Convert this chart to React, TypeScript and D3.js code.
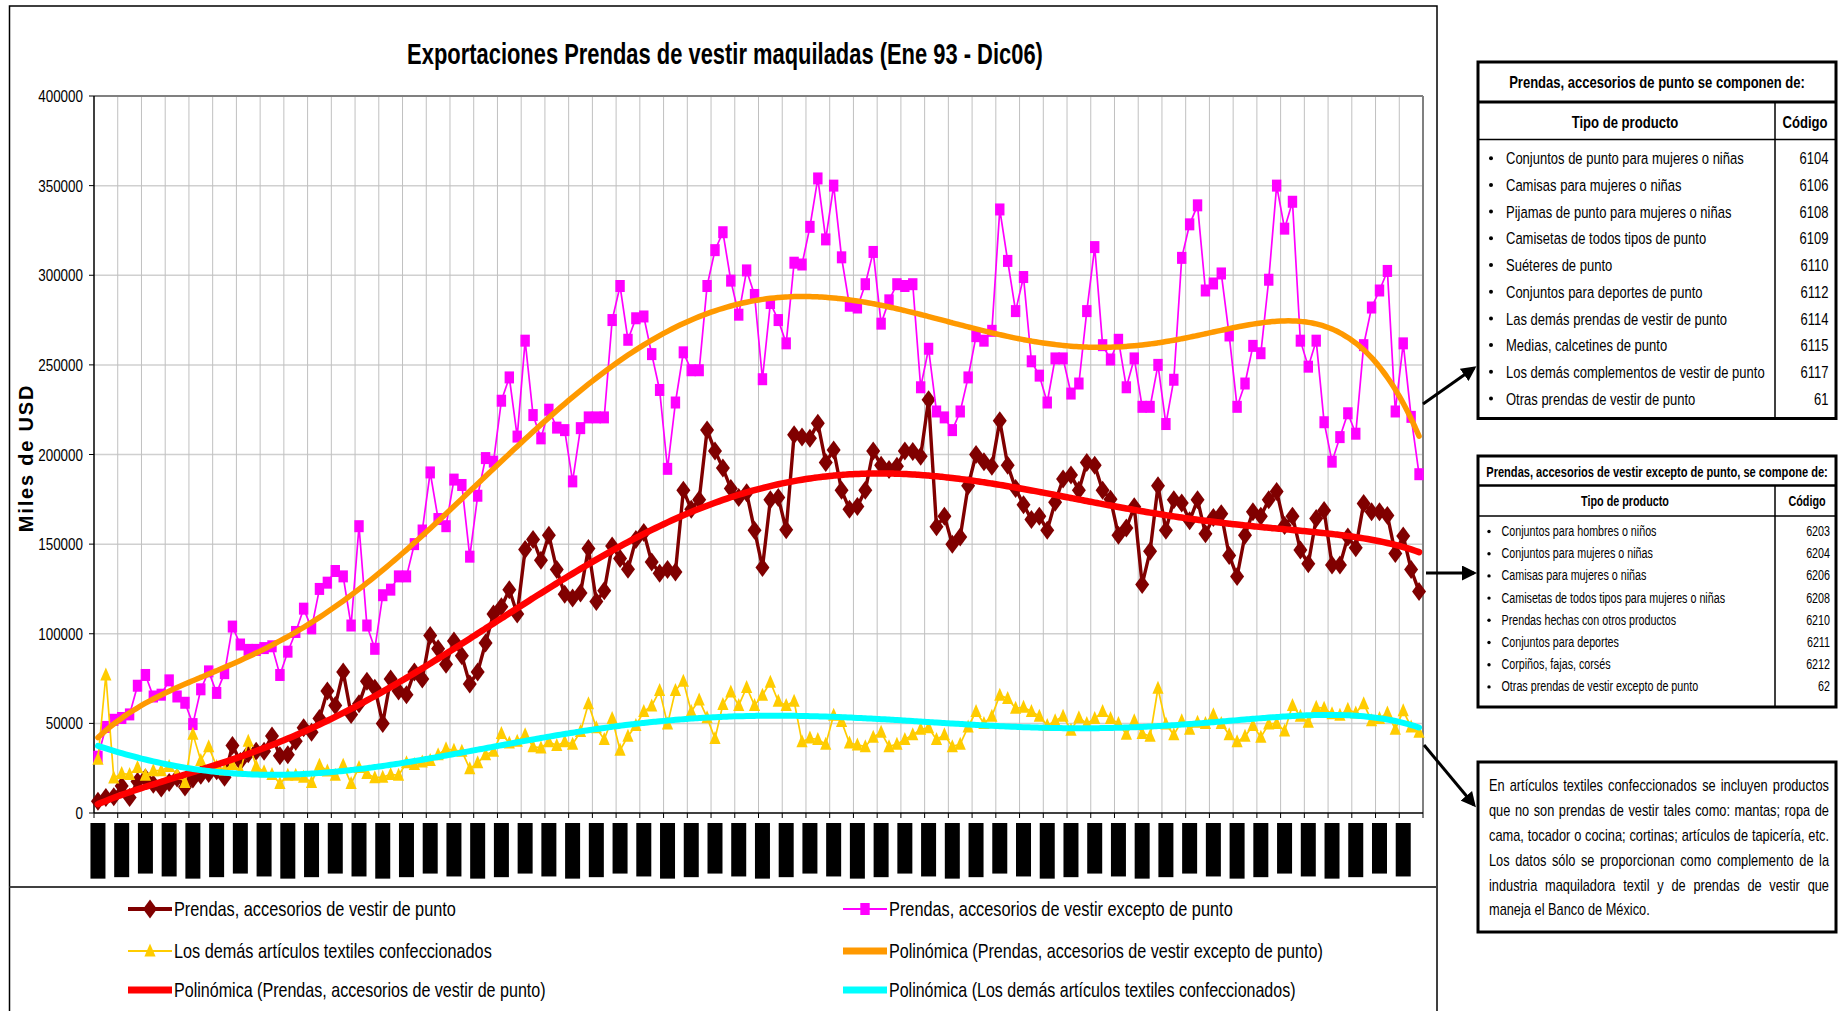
import React from "react";
import * as d3 from "d3";

// ---------------- DATA ----------------
const monthsShort = ["Ene", "Abr", "Jul", "Oct"];
const yearsShort = ["93", "94", "95", "96", "97", "98", "99", "00", "01", "02", "03", "04", "05", "06"];
const yTicks = [0, 50000, 100000, 150000, 200000, 250000, 300000, 350000, 400000];

// Prendas, accesorios de vestir de punto (Ene93..Dic06, monthly)
const punto = [
  6500, 8600, 9000, 15000, 8600, 17600, 19500, 16000, 14000, 17000, 19500, 14500,
  19000, 21000, 22000, 23600, 20000, 37600, 28800, 33000, 34500, 34500, 43000, 32000,
  32500, 40000, 47500, 45000, 52700, 68000, 60000, 78700, 55000, 61000, 73500, 69600,
  50000, 74800, 68000, 66000, 78700, 74800, 99000, 91600, 83000, 96000, 87700, 72000,
  78700, 94800, 111000, 115000, 124600, 111000, 147000, 152600, 141000, 155000, 135800, 122000,
  120000, 122800, 147500, 118000, 124000, 149000, 142000, 136000, 152600, 156500, 140000, 133700,
  135800, 134500, 180000, 169500, 174700, 213600, 202000, 192400, 181000, 176000, 178600, 157800,
  137000, 174700, 176000, 158000, 211000, 209700, 209000, 217500, 195500, 202500, 180000, 169500,
  171000, 180000, 202000, 194000, 191600, 193400, 202000, 201700, 199000, 230500, 159700, 165600,
  150000, 154000, 182500, 200000, 196000, 193400, 218800, 194000, 181000, 172000, 163800, 165600,
  157800, 173400, 186400, 188500, 180000, 195500, 194000, 180000, 175000, 155000, 159000, 170800,
  127500, 146000, 182500, 157800, 174700, 173000, 163000, 174700, 155800, 164800, 167000, 143600,
  132000, 155000, 168000, 165600, 174700, 179400, 160400, 165600, 146700, 139000, 164300, 168700,
  138400, 138400, 154000, 148000, 172600, 168000, 168000, 166000, 144800, 154500, 135800, 123600,
];

// Prendas, accesorios de vestir excepto de punto
const excepto = [
  31400, 48000, 52000, 53000, 55000, 71000, 77000, 65000, 66000, 74000, 65000, 61500,
  49600, 69000, 79000, 67000, 78000, 104000, 94000, 91000, 91000, 92000, 93000, 77000,
  90000, 101000, 114000, 103000, 125000, 128500, 135000, 132000, 104600, 160000, 104600, 91600,
  121500, 124600, 132000, 132000, 150000, 157600, 190000, 164000, 160000, 186000, 183000, 143000,
  177000, 198000, 196000, 230000, 243000, 210000, 263500, 222000, 209000, 225000, 215000, 213600,
  185000, 214700, 220700, 220700, 220700, 275000, 294000, 264000, 276000, 277000, 256000, 236000,
  192000, 229000, 257000, 247000, 247000, 294000, 314000, 324000, 297000, 278000, 302700, 289000,
  242000, 284500, 275000, 262000, 307000, 306000, 327000, 354000, 320000, 350000, 310000, 283000,
  282000, 295000, 313000, 273000, 286000, 295000, 294000, 295000, 237500, 259000, 224000, 220700,
  213600, 224000, 243000, 266000, 263500, 269000, 336700, 308000, 280000, 299000, 252000, 244000,
  229000, 253600, 253600, 234000, 239600, 280000, 315700, 261000, 253000, 264000, 237500, 253600,
  226600, 226600, 250000, 217000, 241700, 309700, 328400, 339000, 291500, 295400, 301000, 266400,
  226600, 239600, 260600, 256500, 297500, 350000, 326000, 341000, 263500, 249000, 263500, 218000,
  196000, 209700, 223000, 211600, 261000, 282000, 291500, 302400, 224000, 262000, 221000, 189000,
];

// Los demás artículos textiles confeccionados
const demas = [
  30000, 77000, 19500, 22000, 21500, 25400, 21000, 23600, 23600, 26000, 21500, 17000,
  44000, 29300, 37000, 26000, 24000, 27000, 23600, 40000, 26000, 23000, 21500, 16400,
  21000, 21000, 20000, 17000, 26700, 23400, 21000, 26700, 16400, 25400, 22000, 19700,
  20000, 21500, 21000, 28000, 27000, 28500, 29300, 32500, 35800, 35000, 34500, 24700,
  28000, 32500, 34500, 44400, 39000, 40000, 43600, 37000, 36300, 39700, 37600, 39700,
  38400, 45400, 61000, 47500, 41000, 52700, 35000, 42800, 48800, 56600, 59700, 68300,
  49600, 68300, 73500, 56600, 63000, 53200, 41500, 60500, 67500, 60000, 70000, 60000,
  65700, 73000, 62300, 60000, 62300, 39700, 41800, 41000, 38400, 54500, 51000, 39000,
  38000, 37000, 42300, 45000, 37000, 38400, 41000, 43600, 46700, 47500, 41000, 43600,
  37000, 38400, 48000, 56600, 50000, 54000, 65700, 63900, 58400, 59000, 56600, 54000,
  48800, 51400, 54000, 46200, 53200, 50000, 52700, 56600, 52700, 50000, 44000, 51400,
  44400, 42800, 69600, 49600, 43600, 51400, 46700, 50600, 50000, 54800, 50000, 43600,
  39700, 42800, 48800, 42300, 49600, 50000, 45700, 60000, 54000, 50600, 59000, 58400,
  55300, 54500, 57900, 55800, 61000, 51400, 52700, 55800, 46700, 57000, 48000, 45000,
];

const seriesNames = [
  "Prendas, accesorios de vestir de punto",
  "Prendas, accesorios de vestir excepto de punto",
  "Los demás artículos textiles confeccionados",
  "Polinómica (Prendas, accesorios de vestir excepto de punto)",
  "Polinómica (Prendas, accesorios de vestir de punto)",
  "Polinómica (Los demás artículos textiles confeccionados)",
];

const box1Title = "Prendas, accesorios de punto se componen de:";
const box1Items = [
  "Conjuntos de punto para mujeres o niñas",
  "Camisas para mujeres o niñas",
  "Pijamas de punto para mujeres o niñas",
  "Camisetas de todos tipos de punto",
  "Suéteres de punto",
  "Conjuntos para deportes de punto",
  "Las demás prendas de vestir de punto",
  "Medias, calcetines de punto",
  "Los demás complementos de vestir de punto",
  "Otras prendas de vestir de punto",
];
const box1Codes = ["6104", "6106", "6108", "6109", "6110", "6112", "6114", "6115", "6117", "61"];

const box2Title = "Prendas, accesorios de vestir excepto de punto, se compone de:";
const box2Items = [
  "Conjuntos para hombres o niños",
  "Conjuntos para mujeres o niñas",
  "Camisas para mujeres o niñas",
  "Camisetas de todos tipos para mujeres o niñas",
  "Prendas hechas con otros productos",
  "Conjuntos para deportes",
  "Corpiños, fajas, corsés",
  "Otras prendas de vestir excepto de punto",
];
const box2Codes = ["6203", "6204", "6206", "6208", "6210", "6211", "6212", "62"];

const box3Lines = [
  "En artículos textiles confeccionados se incluyen productos",
  "que no son prendas de vestir tales como: mantas; ropa de",
  "cama, tocador o cocina; cortinas; artículos de tapicería, etc.",
  "Los datos sólo se proporcionan como complemento de la",
  "industria maquiladora textil y de prendas de vestir que",
  "maneja el Banco de México.",
];

// ---------------- HELPERS ----------------
const FONT = '"Liberation Sans", Arial, Helvetica, sans-serif';

let _ctx: CanvasRenderingContext2D | null = null;
function measure(text: string, size: number, weight = "normal") {
  if (!_ctx) {
    const c = document.createElement("canvas");
    _ctx = c.getContext("2d");
  }
  if (!_ctx) return text.length * size * 0.5;
  _ctx.font = `${weight} ${size}px "Liberation Sans", Arial, sans-serif`;
  return _ctx.measureText(text).width;
}

function polyFit(vals: number[], order: number) {
  const n = vals.length;
  const c = (n - 1) / 2;
  const m = order + 1;
  const A = Array.from({ length: m }, () => new Array(m + 1).fill(0));
  vals.forEach((v, i) => {
    const t = (i - c) / c;
    const p: number[] = [];
    for (let j = 0; j < m; j++) p.push(Math.pow(t, j));
    for (let r = 0; r < m; r++) {
      for (let q = 0; q < m; q++) A[r][q] += p[r] * p[q];
      A[r][m] += p[r] * v;
    }
  });
  for (let col = 0; col < m; col++) {
    let piv = col;
    for (let r = col + 1; r < m; r++) if (Math.abs(A[r][col]) > Math.abs(A[piv][col])) piv = r;
    const tmp = A[col]; A[col] = A[piv]; A[piv] = tmp;
    for (let r = 0; r < m; r++) {
      if (r === col) continue;
      const f = A[r][col] / A[col][col];
      for (let q = col; q <= m; q++) A[r][q] -= f * A[col][q];
    }
  }
  const coef = A.map((row, r) => row[m] / row[r]);
  return (s: number) => {
    const t = (s - c) / c;
    let y = 0;
    for (let j = m - 1; j >= 0; j--) y = y * t + coef[j];
    return y;
  };
}

function T(props: any) {
  const { x, y, k = 1, size, weight = "normal", anchor = "start", fill = "#000", ls, children } = props;
  return (
    <text
      transform={`translate(${x},${y}) scale(${k},1)`}
      fontSize={size}
      fontWeight={weight}
      textAnchor={anchor}
      dominantBaseline="central"
      fill={fill}
      fontFamily={FONT}
      letterSpacing={ls}
    >
      {children}
    </text>
  );
}

// fit text to a given width
function TW(props: any) {
  const { text, width, size, weight = "normal" } = props;
  const k = width / measure(text, size, weight);
  return <T {...props} k={k}>{text}</T>;
}

// ---------------- LAYOUT ----------------
const W = 1838;
const H = 1011;
const PL = 94, PR = 1423, PT = 96, PB = 813;

export default function App() {
  const n = punto.length;
  const idx = d3.range(n);
  const xBand = d3.scaleBand<number>().domain(idx).range([PL, PR]).padding(0);
  const bw = xBand.bandwidth();
  const cx = (i: number) => (xBand(i) as number) + bw / 2;
  const y = d3.scaleLinear().domain([0, 400000]).range([PB, PT]);

  const xLabels: string[] = [];
  yearsShort.forEach((yr) => monthsShort.forEach((mo) => xLabels.push(`${mo}-${yr}`)));

  const line = d3.line<number>().x((_, i) => cx(i)).y((v) => y(v));

  const trendPath = (vals: number[]) => {
    const f = polyFit(vals, 6);
    const pts = d3.range(0, n - 1 + 0.001, 0.5).map((s) => [PL + bw / 2 + s * bw, y(f(s))] as [number, number]);
    return d3.line().curve(d3.curveBasis)(pts) as string;
  };

  const diamond = "M0,-9.5 L7,0 L0,9.5 L-7,0 Z";
  const tri = "M0,-7.5 L5.6,5.5 L-5.6,5.5 Z";
  const sqW = 9.4, sqH = 12;

  const C = {
    punto: "#800000",
    excepto: "#FF00FF",
    demas: "#FFCC00",
    tExcepto: "#FF9900",
    tPunto: "#FF0000",
    tDemas: "#00FFFF",
  };

  const vGrid = d3.range(3, n, 3).map((i) => xBand(i) as number);
  const xTicks = d3.range(0, n + 1, 3).map((i) => (i === n ? PR : (xBand(i) as number)));

  const b3Left = 1489, b3Right = 1829, b3Size = 16, b3k = 0.8;
  const b3Y = [785, 810.5, 835.5, 860, 885, 909.5];

  const legendRows = [909, 951, 990];
  const legCols = [[128, 174], [843, 889]];
  const legLen = [282, 344, 318, 434, 372, 407];

  return (
    <svg width={W} height={H} style={{ position: "absolute", left: 0, top: 0, background: "#fff" }} fontFamily={FONT}>
      <defs>
        <marker id="ah" viewBox="0 0 10 10" refX="8" refY="5" markerWidth="5" markerHeight="5" orient="auto" markerUnits="strokeWidth">
          <path d="M0,0 L10,5 L0,10 Z" fill="#000" />
        </marker>
      </defs>
      <rect x={0} y={0} width={W} height={H} fill="#fff" />
      <rect x={9.5} y={6} width={1427.5} height={1030} fill="#fff" stroke="#000" strokeWidth={1.5} />

      {/* title */}
      <TW x={725} y={54} width={636} size={30} weight="bold" anchor="middle" text="Exportaciones Prendas de vestir maquiladas (Ene 93 - Dic06)" />

      {/* gridlines */}
      {yTicks.slice(1, -1).map((t) => (
        <line key={"hg" + t} x1={PL} x2={PR} y1={y(t)} y2={y(t)} stroke="#d0d0d0" strokeWidth={1.5} />
      ))}
      {vGrid.map((gx, i) => (
        <line key={"vg" + i} x1={gx} x2={gx} y1={PT} y2={PB} stroke="#c0c0c0" strokeWidth={1} />
      ))}
      <line x1={PL} x2={PR} y1={PT} y2={PT} stroke="#808080" strokeWidth={2} />
      <line x1={PR} x2={PR} y1={PT} y2={PB} stroke="#808080" strokeWidth={2} />

      {/* y axis */}
      <line x1={PL} x2={PL} y1={PT} y2={PB} stroke="#000" strokeWidth={1.5} />
      {yTicks.map((t) => (
        <g key={"yt" + t}>
          <line x1={PL - 5} x2={PL} y1={y(t)} y2={y(t)} stroke="#000" strokeWidth={1} />
          <T x={83} y={y(t)} k={0.79} size={17} anchor="end">{String(t)}</T>
        </g>
      ))}
      <text
        transform={`translate(33,458) rotate(-90)`}
        fontSize={20}
        fontWeight="bold"
        textAnchor="middle"
        fontFamily={FONT}
        letterSpacing={1.8}
        fill="#000"
      >
        Miles de USD
      </text>

      {/* x axis */}
      <line x1={PL} x2={PR} y1={PB} y2={PB} stroke="#000" strokeWidth={1.5} />
      {xTicks.map((tx, i) => (
        <line key={"xt" + i} x1={tx} x2={tx} y1={PB} y2={PB + 5} stroke="#000" strokeWidth={1} />
      ))}
      {xLabels.map((lab, j) => {
        const len = measure(lab, 13, "bold") + 13;
        return (
          <g key={"xl" + j} transform={`translate(${cx(j * 3)},823) rotate(-90)`}>
            <rect x={-len} y={-7.5} width={len} height={15} fill="#000" />
            <text x={-6} y={0} textAnchor="end" dominantBaseline="central" fontSize={13} fontWeight="bold" fill="#000" fontFamily={FONT}>
              {lab}
            </text>
          </g>
        );
      })}

      {/* series: de punto */}
      <path d={line(punto) as string} fill="none" stroke={C.punto} strokeWidth={3.4} />
      {punto.map((v, i) => (
        <path key={"pm" + i} d={diamond} transform={`translate(${cx(i)},${y(v)})`} fill={C.punto} />
      ))}
      {/* series: excepto */}
      <path d={line(excepto) as string} fill="none" stroke={C.excepto} strokeWidth={1.7} />
      {excepto.map((v, i) => (
        <rect key={"em" + i} x={cx(i) - sqW / 2} y={y(v) - sqH / 2} width={sqW} height={sqH} fill={C.excepto} />
      ))}
      {/* series: demas */}
      <path d={line(demas) as string} fill="none" stroke={C.demas} strokeWidth={1.7} />
      {demas.map((v, i) => (
        <path key={"dm" + i} d={tri} transform={`translate(${cx(i)},${y(v)})`} fill={C.demas} />
      ))}

      {/* trendlines */}
      <path d={trendPath(excepto)} fill="none" stroke={C.tExcepto} strokeWidth={5.5} strokeLinecap="round" />
      <path d={trendPath(punto)} fill="none" stroke={C.tPunto} strokeWidth={6.5} strokeLinecap="round" />
      <path d={trendPath(demas)} fill="none" stroke={C.tDemas} strokeWidth={6} strokeLinecap="round" />

      {/* legend */}
      <line x1={9.5} x2={1437} y1={887} y2={887} stroke="#404040" strokeWidth={2} />
      {seriesNames.map((name, i) => {
        const col = i % 2;
        const row = Math.floor(i / 2);
        const [lx, tx] = legCols[col];
        const ly = legendRows[row];
        const colors = [C.punto, C.excepto, C.demas, C.tExcepto, C.tPunto, C.tDemas];
        const sw = [4, 2, 2, 7, 7, 7][i];
        const mx = lx + 22;
        return (
          <g key={"lg" + i}>
            <line x1={lx} x2={lx + 44} y1={ly} y2={ly} stroke={colors[i]} strokeWidth={sw} />
            {i === 0 && <path d={diamond} transform={`translate(${mx},${ly})`} fill={C.punto} />}
            {i === 1 && <rect x={mx - sqW / 2} y={ly - sqH / 2} width={sqW} height={sqH} fill={C.excepto} />}
            {i === 2 && <path d={tri} transform={`translate(${mx},${ly})`} fill={C.demas} />}
            <TW x={tx} y={ly} width={legLen[i]} size={20.5} text={name} />
          </g>
        );
      })}

      {/* arrows */}
      <line x1={1423} y1={404} x2={1474} y2={368} stroke="#000" strokeWidth={3} markerEnd="url(#ah)" />
      <line x1={1426} y1={573} x2={1474} y2={573} stroke="#000" strokeWidth={3} markerEnd="url(#ah)" />
      <line x1={1424} y1={745} x2={1474} y2={805} stroke="#000" strokeWidth={3} markerEnd="url(#ah)" />

      {/* box 1 */}
      <rect x={1478} y={62} width={358} height={356.5} fill="#fff" stroke="#000" strokeWidth={3} />
      <TW x={1657} y={82} width={296} size={17} weight="bold" anchor="middle" text={box1Title} />
      <line x1={1478} x2={1836} y1={102} y2={102} stroke="#000" strokeWidth={3} />
      <line x1={1478} x2={1836} y1={139.5} y2={139.5} stroke="#000" strokeWidth={1.5} />
      <line x1={1775} x2={1775} y1={102} y2={418.5} stroke="#000" strokeWidth={1.5} />
      <T x={1625} y={121.5} k={0.77} size={17} weight="bold" anchor="middle">Tipo de producto</T>
      <T x={1805} y={121.5} k={0.77} size={17} weight="bold" anchor="middle">Código</T>
      {box1Items.map((it, i) => {
        const yy = 158.2 + i * 26.7;
        return (
          <g key={"b1" + i}>
            <circle cx={1491} cy={yy} r={2} fill="#000" />
            <T x={1506} y={yy} k={0.765} size={17}>{it}</T>
            <T x={1828.5} y={yy} k={0.765} size={17} anchor="end">{box1Codes[i]}</T>
          </g>
        );
      })}

      {/* box 2 */}
      <rect x={1478} y={456} width={358} height={251} fill="#fff" stroke="#000" strokeWidth={3} />
      <TW x={1657} y={472.5} width={342} size={14} weight="bold" anchor="middle" text={box2Title} />
      <line x1={1478} x2={1836} y1={485.5} y2={485.5} stroke="#000" strokeWidth={2.5} />
      <line x1={1478} x2={1836} y1={516} y2={516} stroke="#000" strokeWidth={1.5} />
      <line x1={1775} x2={1775} y1={485.5} y2={707} stroke="#000" strokeWidth={1.5} />
      <T x={1625} y={501.5} k={0.77} size={14} weight="bold" anchor="middle">Tipo de producto</T>
      <T x={1807} y={501.5} k={0.77} size={14} weight="bold" anchor="middle">Código</T>
      {box2Items.map((it, i) => {
        const yy = 531.5 + i * 22.2;
        return (
          <g key={"b2" + i}>
            <circle cx={1489} cy={yy} r={1.7} fill="#000" />
            <T x={1501.5} y={yy} k={0.766} size={14}>{it}</T>
            <T x={1830} y={yy} k={0.766} size={14} anchor="end">{box2Codes[i]}</T>
          </g>
        );
      })}

      {/* box 3 */}
      <rect x={1478} y={762} width={358} height={170} fill="#fff" stroke="#000" strokeWidth={3} />
      {box3Lines.map((ln, li) => {
        const words = ln.split(" ");
        const widths = words.map((w) => measure(w, b3Size) * b3k);
        const total = d3.sum(widths);
        const last = li === box3Lines.length - 1;
        const gap = last ? measure(" ", b3Size) * b3k : (b3Right - b3Left - total) / (words.length - 1);
        let xx = b3Left;
        return (
          <g key={"b3" + li}>
            {words.map((w, wi) => {
              const el = <T key={wi} x={xx} y={b3Y[li]} k={b3k} size={b3Size}>{w}</T>;
              xx += widths[wi] + gap;
              return el;
            })}
          </g>
        );
      })}
    </svg>
  );
}
